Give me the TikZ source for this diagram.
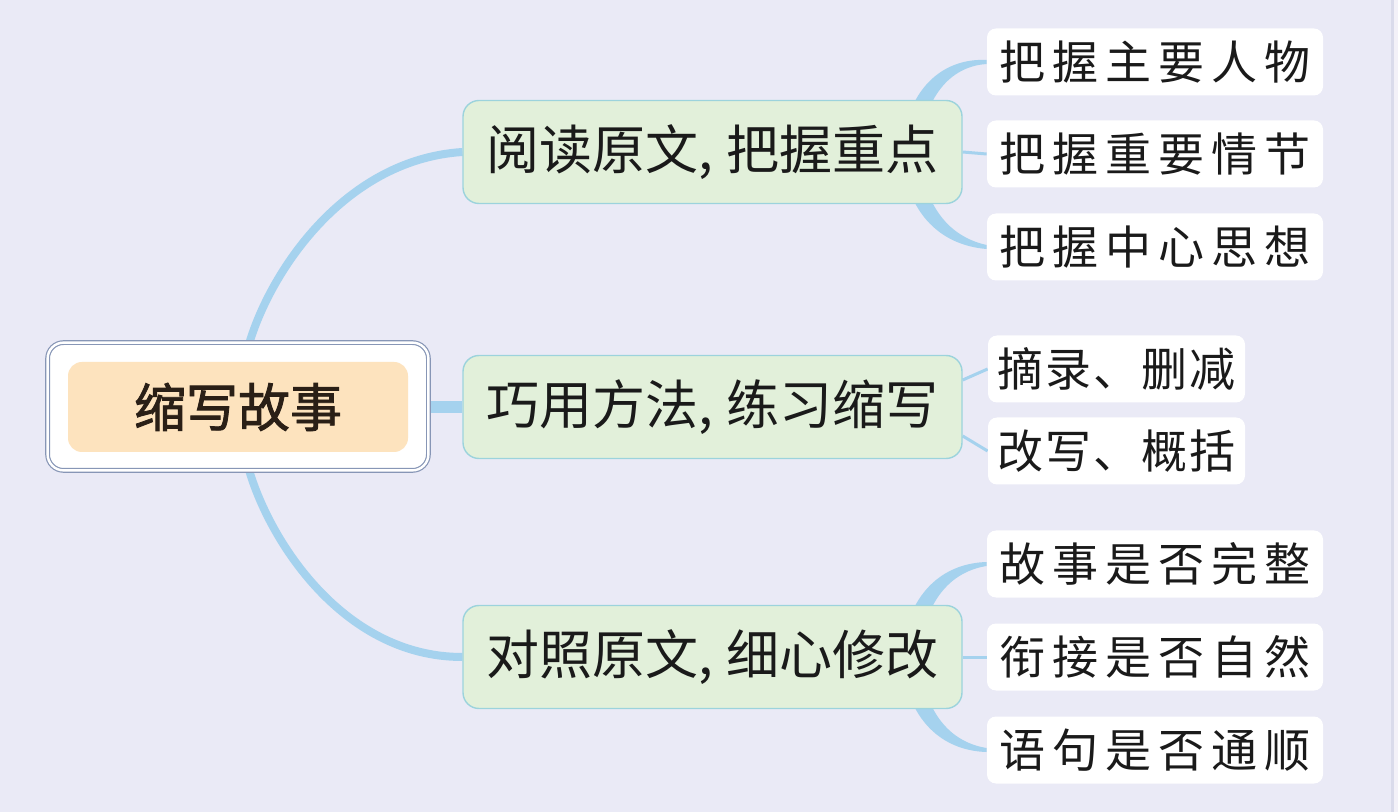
\documentclass[tikz,border=0pt]{standalone}
\usepackage{fontspec}
\setmainfont{Noto Sans CJK SC}
\newfontfamily\cjk{Noto Sans CJK SC}
\newfontfamily\rootfont[FakeBold=1.6]{Noto Sans CJK SC}
\newfontfamily\leaffont[LetterSpace=15]{Noto Sans CJK SC}
\newfontfamily\leaffontb[LetterSpace=4]{Noto Sans CJK SC}
\usetikzlibrary{calc,backgrounds}
\definecolor{bg}{HTML}{EAEAF6}
\definecolor{link}{HTML}{A5D2EE}
\definecolor{rootfill}{HTML}{FDE3BE}
\definecolor{roottext}{HTML}{2A1F16}
\definecolor{framec}{HTML}{8796B6}
\definecolor{midfill}{HTML}{E2F0DA}
\definecolor{midline}{HTML}{9CD3DC}
\definecolor{txt}{HTML}{1A1A1A}
\definecolor{stripa}{HTML}{DADBEB}
\definecolor{stripb}{HTML}{F3F1F8}
\tikzset{
  rootbox/.style={fill=rootfill, rounded corners=7pt, minimum width=170pt, minimum height=45pt,
    inner sep=0pt, text=roottext, font=\rootfont\fontsize{26}{30}\selectfont},
  rootframe/.style={draw=framec, double=white, double distance=1.2pt, line width=0.6pt,
    fill=white, rounded corners=8pt},
  midbox/.style={fill=midfill, draw=midline, line width=0.7pt, rounded corners=8pt,
    minimum width=249.5pt, minimum height=51.5pt, inner sep=0pt, text=txt,
    font=\cjk\fontsize{26.5}{30}\selectfont},
  leafbox/.style={fill=white, rounded corners=4.5pt, minimum height=33.5pt, inner sep=0pt,
    text=txt, font=\leaffont\fontsize{23}{27}\selectfont},
  leafboxb/.style={leafbox, font=\leaffontb\fontsize{23}{27}\selectfont},
  mainlink/.style={draw=link, line width=4pt},
  thinlink/.style={draw=link, line width=1.5pt},
}
\begin{document}
\begin{tikzpicture}[x=0.5pt,y=-0.5pt]
\useasboundingbox (0,0) rectangle (1398,812);
% nodes
\node[rootbox] (root) at (238,407) {缩写故事};
\node[midbox] (m1) at (712.5,152) {阅读原文,\hspace{0.25em}把握重点};
\node[midbox] (m2) at (712.5,407) {巧用方法,\hspace{0.25em}练习缩写};
\node[midbox] (m3) at (712.5,657) {对照原文,\hspace{0.25em}细心修改};
\node[leafbox, minimum width=168pt] (l1) at (1155,62) {把握主要人物};
\node[leafbox, minimum width=168pt] (l2) at (1155,154) {把握重要情节};
\node[leafbox, minimum width=168pt] (l3) at (1155,247) {把握中心思想};
\node[leafboxb, minimum width=128.5pt] (l4) at (1116.5,369) {摘录、删减};
\node[leafboxb, minimum width=128.5pt] (l5) at (1116.5,451) {改写、概括};
\node[leafbox, minimum width=168pt] (l6) at (1155,564) {故事是否完整};
\node[leafbox, minimum width=168pt] (l7) at (1155,657) {衔接是否自然};
\node[leafbox, minimum width=168pt] (l8) at (1155,750) {语句是否通顺};
\begin{pgfonlayer}{background}
\fill[bg] (0,0) rectangle (1398,812);
\fill[stripa] (1391,0) rectangle (1394,812);
\fill[stripb] (1394,0) rectangle (1398,812);
% main connectors
\draw[mainlink] ($(root.north)+(9,-10)$) .. controls (265,280) and (340,160) .. (m1.west);
\draw[mainlink] ($(root.south)+(9,10)$) .. controls (265,534) and (340,657) .. (m3.west);
\draw[draw=link, line width=6pt] (root.east) -- (m2.west);
% leaf connectors of m1
\fill[link] ($(m1.east)+(-62,0)$) .. controls (908,80) and (950,58) .. ($(l1.west)+(0,-2)$)
  -- ($(l1.west)+(0,2)$) .. controls (955,66) and (925,90) .. ($(m1.east)+(-44,0)$) -- cycle;
\draw[thinlink] (m1.east) -- (l2.west);
\fill[link] ($(m1.east)+(-62,0)$) .. controls (908,224) and (950,246) .. ($(l3.west)+(0,2)$)
  -- ($(l3.west)+(0,-2)$) .. controls (955,238) and (925,214) .. ($(m1.east)+(-44,0)$) -- cycle;
% leaf connectors of m2
\draw[thinlink] ($(m2.east)+(0,-27)$) -- (l4.west);
\draw[thinlink] ($(m2.east)+(0,29)$) -- (l5.west);
% leaf connectors of m3
\fill[link] ($(m3.east)+(-62,0)$) .. controls (908,585) and (950,563) .. ($(l6.west)+(0,-2)$)
  -- ($(l6.west)+(0,2)$) .. controls (955,571) and (925,595) .. ($(m3.east)+(-44,0)$) -- cycle;
\draw[thinlink] (m3.east) -- (l7.west);
\fill[link] ($(m3.east)+(-62,0)$) .. controls (908,729) and (950,751) .. ($(l8.west)+(0,2)$)
  -- ($(l8.west)+(0,-2)$) .. controls (955,743) and (925,719) .. ($(m3.east)+(-44,0)$) -- cycle;
% root frame
\draw[rootframe] ($(root.north west)+(-20,-19)$) rectangle ($(root.south east)+(20,18)$);
\end{pgfonlayer}
\end{tikzpicture}
\end{document}
